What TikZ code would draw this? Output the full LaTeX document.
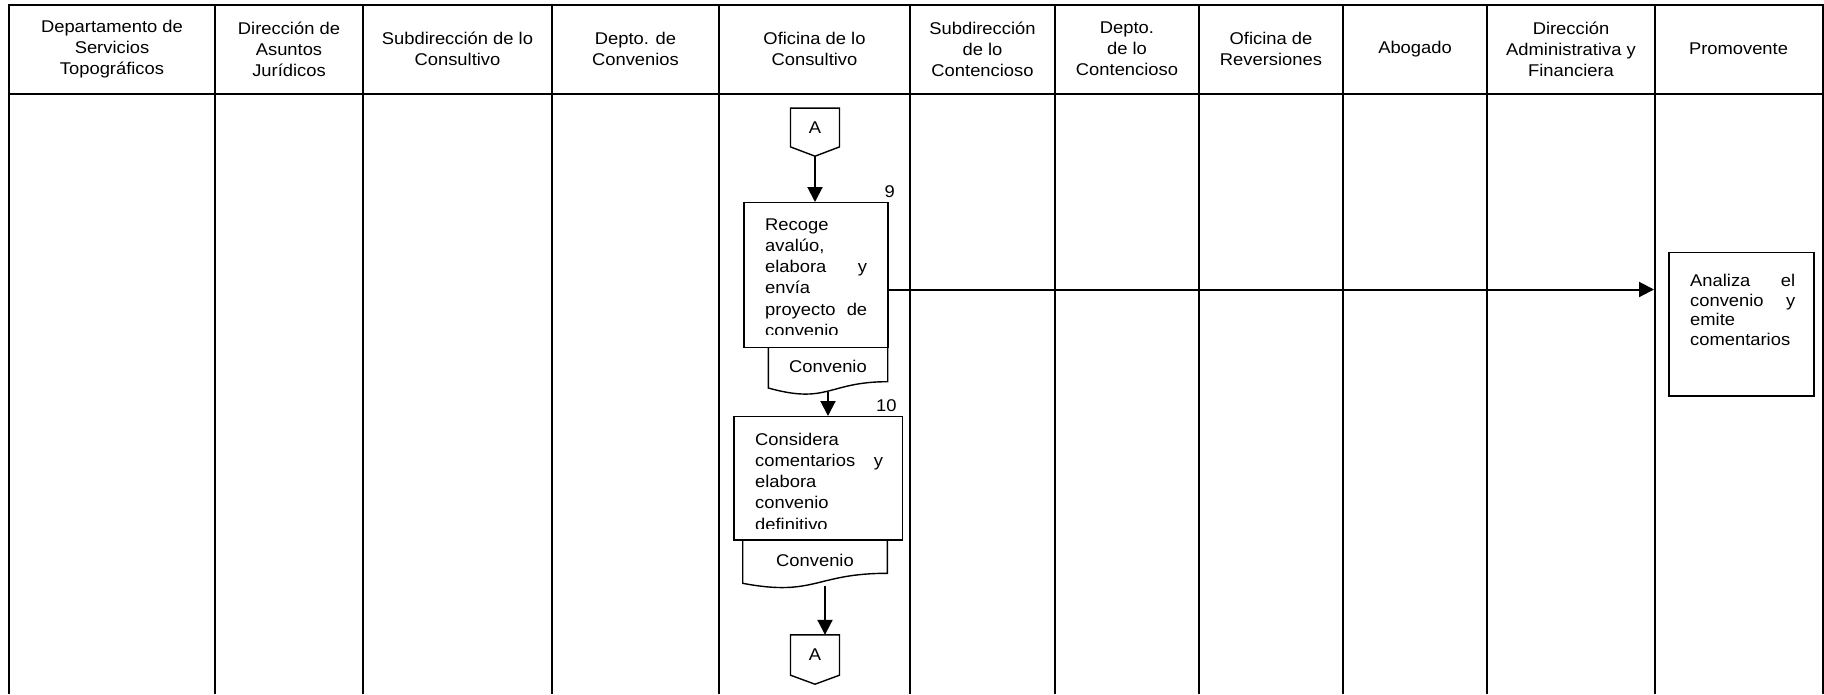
\documentclass[tikz,border=0pt]{standalone}
\usepackage{fontspec}
\setmainfont{Liberation Sans}[FakeStretch=1.08]
\usetikzlibrary{arrows.meta}

\begin{document}
\begin{tikzpicture}[x=1pt,y=-1pt,
  lane/.style={line width=2pt},
  head/.style={align=center,inner sep=0pt,font=\fontsize{17pt}{21pt}\selectfont},
  proc/.style={draw,line width=1.4pt,inner sep=0pt},
  outline/.style={line width=1.4pt,line join=miter},
  txt/.style={align=left,inner sep=0pt,anchor=base west,font=\fontsize{17pt}{21.3pt}\selectfont},
  num/.style={inner sep=0pt,anchor=base east,font=\fontsize{17pt}{21pt}\selectfont},
  conn/.style={inner sep=0pt,minimum width=48.6pt,font=\fontsize{17pt}{21pt}\selectfont},
  doctext/.style={inner sep=0pt,font=\fontsize{17pt}{21pt}\selectfont},
  arr/.style={line width=2pt,-{Triangle[length=15pt,width=15pt]}}]

\useasboundingbox (0,0) rectangle (1824,694);

% swim lanes
\draw[lane] (9,694) -- (9,5) -- (1822.5,5) -- (1822.5,694);
\draw[lane] (9,93.5) -- (1822.5,93.5);
\draw[lane] (215,5) -- (215,694);
\draw[lane] (363,5) -- (363,694);
\draw[lane] (552,5) -- (552,694);
\draw[lane] (719,5) -- (719,694);
\draw[lane] (910,5) -- (910,694);
\draw[lane] (1055,5) -- (1055,694);
\draw[lane] (1199,5) -- (1199,694);
\draw[lane] (1343,5) -- (1343,694);
\draw[lane] (1487,5) -- (1487,694);
\draw[lane] (1655,5) -- (1655,694);

\node[head] (h1) at (112,49) {Departamento de\\Servicios\\Topográficos};
\node[head] (h2) at (289,49) {Dirección de\\Asuntos\\Jurídicos};
\node[head] (h3) at (457.5,49) {Subdirección de lo\\Consultivo};
\node[head] (h4) at (635.5,49) {Depto. de\\Convenios};
\node[head] (h5) at (814.5,49) {Oficina de lo\\Consultivo};
\node[head] (h6) at (982.5,49) {Subdirección\\de lo\\Contencioso};
\node[head] (h7) at (1127,49) {Depto.\\de lo\\Contencioso};
\node[head] (h8) at (1271,49) {Oficina de\\Reversiones};
\node[head] (h9) at (1415,49) {Abogado};
\node[head] (h10) at (1571,49) {Dirección\\Administrativa y\\Financiera};
\node[head] (h11) at (1738.5,49) {Promovente};

% connector A (entrada)
\node[conn,minimum height=38.4pt] (A1) at (815,127.5) {A};
\draw[outline] (A1.north west) -- (A1.north east) -- (A1.south east)
  -- ([yshift=-9.3pt]A1.south) -- (A1.south west) -- cycle;

% paso 9
\node[proc,minimum width=144pt,minimum height=145pt] (b9) at (816,275.2) {};
\begin{scope}
\clip (744,202.7) rectangle (888,334.5);
\node[txt,text width=102pt] (t9) at (765,230) {Recoge\\avalúo,\\elabora \hfill y\\envía\\proyecto \hfill de\\convenio};
\end{scope}
\node[num] (n9) at (895,197) {9};

\node[doctext] (d1) at (828,366) {Convenio};
\draw[outline] (887.7,347.7) -- (887.7,381.7) .. controls (828,381.7) and (828,404.7) .. (768.3,388) -- (768.3,347.7);

% paso 10
\node[proc,minimum width=168.7pt,minimum height=123.3pt] (b10) at (818.35,478.35) {};
\begin{scope}
\clip (734,416.7) rectangle (902.7,528);
\node[txt,text width=128pt] (t10) at (755,445) {Considera\\comentarios \hfill y\\elabora\\convenio\\definitivo};
\end{scope}
\node[num] (n10) at (896.7,411.7) {10};

\node[doctext] (d2) at (815,560) {Convenio};
\draw[outline] (887.3,540) -- (887.3,573.3) .. controls (815,573.3) and (815,597) .. (742.7,583.3) -- (742.7,540);

% connector A (salida)
\node[conn,minimum height=40pt] (A2) at (815,655) {A};
\draw[outline] (A2.north west) -- (A2.north east) -- (A2.south east)
  -- ([yshift=-9pt]A2.south) -- (A2.south west) -- cycle;

% promovente
\node[proc,minimum width=145pt,minimum height=143.3pt] (bP) at (1741.5,324.35) {};
\node[txt,text width=105pt,font=\fontsize{17pt}{19.5pt}\selectfont] (tP) at (1690,286.7) {Analiza \hfill el\\convenio \hfill y\\emite\\comentarios};

\coordinate (inP) at (1654,289.5);

\draw[arr] ([yshift=-9.3pt]A1.south) -- (A1.south |- b9.north);
\draw[arr] (b9.east |- inP) -- (inP);
\draw[arr] ([yshift=-26pt]d1.center) -- (d1.center |- b10.north);
\draw[arr] ([xshift=10pt,yshift=-26pt]d2.center) -- ([xshift=10pt]A2.north);

\end{tikzpicture}
\end{document}
